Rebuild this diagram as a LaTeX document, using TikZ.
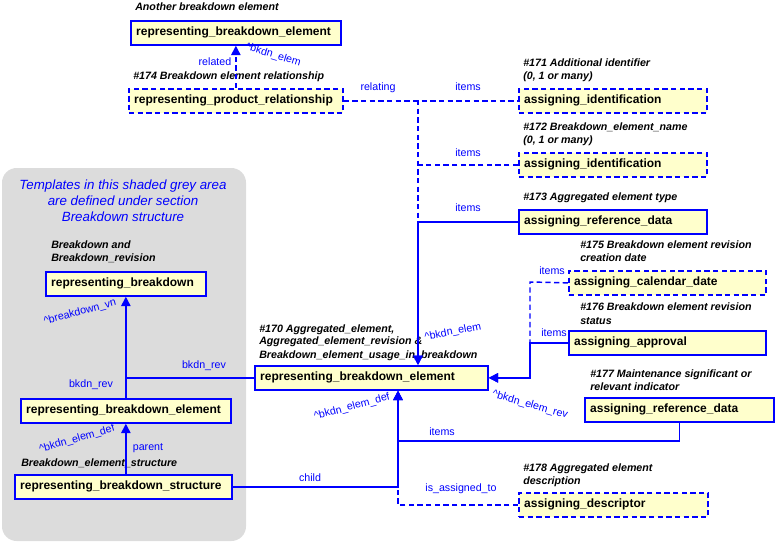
\documentclass[tikz,border=0pt]{standalone}
\usepackage{fontspec}
\setmainfont{Liberation Sans}
\usetikzlibrary{arrows.meta}
\definecolor{boxfill}{HTML}{FFFFCC}
\definecolor{greyarea}{HTML}{DCDCDC}

\begin{document}
\begin{tikzpicture}[x=0.75pt,y=-0.75pt,
  tmpl/.style={draw=blue,fill=boxfill,line width=1.3pt,anchor=north west,minimum height=18pt,inner xsep=4pt,inner ysep=0pt,align=left,font=\fontsize{9}{11}\selectfont\bfseries},
  opt/.style={tmpl,dash pattern=on 4pt off 2.5pt},
  note/.style={anchor=north west,inner sep=0pt,align=left,font=\fontsize{8}{9.75}\selectfont\bfseries\itshape},
  role/.style={text=blue,inner sep=0pt,font=\fontsize{8}{9.6}\selectfont},
  link/.style={draw=blue,line width=1.1pt},
  optlink/.style={link,dash pattern=on 4pt off 2.5pt},
  tip/.style={-{Triangle[width=7pt,length=7pt]}}]

\useasboundingbox (0,0) rectangle (775,543);

%grey area
\fill[greyarea,rounded corners=11pt] (2,168) rectangle (246,541);
\node[text=blue,align=center,font=\fontsize{10}{12}\selectfont\itshape,anchor=north,inner sep=0pt] (area) at (123,180) {Templates in this shaded grey area\\are defined under section\\Breakdown structure};

%templates
\node[tmpl,text width=149.5pt] (other) at (130,20) {representing\_breakdown\_element};
\node[opt,text width=152.5pt] (rel) at (128,88) {representing\_product\_relationship};
\node[opt,text width=133pt] (ident1) at (518,88) {assigning\_identification};
\node[opt,text width=133pt] (ident2) at (518,152) {assigning\_identification};
\node[tmpl,text width=133pt] (type) at (518,209) {assigning\_reference\_data};
\node[opt,text width=139.75pt] (date) at (568,270) {assigning\_calendar\_date};
\node[tmpl,text width=139.75pt] (appr) at (568,330) {assigning\_approval};
\node[tmpl,text width=133.75pt] (msi) at (584,397) {assigning\_reference\_data};
\node[opt,text width=133.75pt] (descr) at (518,492) {assigning\_descriptor};
\node[tmpl,text width=166.75pt] (elem) at (254,365) {representing\_breakdown\_element};
\node[tmpl,text width=112pt] (bkdn) at (45,271) {representing\_breakdown};
\node[tmpl,text width=149.5pt] (lelem) at (20,398) {representing\_breakdown\_element};
\node[tmpl,text width=154.75pt] (struct) at (14,474) {representing\_breakdown\_structure};

%notes
\node[note] (n0) at (135,3) {Another breakdown element};
\node[note] (n174) at (133,72) {\#174 Breakdown element relationship};
\node[note] (n171) at (523,59) {\#171 Additional identifier\\(0, 1 or many)};
\node[note] (n172) at (523,123) {\#172 Breakdown\_element\_name\\(0, 1 or many)};
\node[note] (n173) at (523,193) {\#173 Aggregated element type};
\node[note] (n175) at (580,241) {\#175 Breakdown element revision\\creation date};
\node[note] (n176) at (580,303) {\#176 Breakdown element revision\\status};
\node[note] (n177) at (590,369) {\#177 Maintenance significant or\\relevant indicator};
\node[note] (n178) at (523,463) {\#178 Aggregated element\\description};
\node[note] (n170) at (259,324) {\#170 Aggregated\_element,\\Aggregated\_element\_revision \&\\Breakdown\_element\_usage\_in\_breakdown};
\node[note] (nbk) at (51,241) {Breakdown and\\Breakdown\_revision};
\node[note] (nst) at (21,458) {Breakdown\_element\_structure};

%connectors
\coordinate (j1) at (418,100);
\coordinate (j2) at (530,282);
\coordinate (j3) at (398,441);

\draw[optlink,tip] (rel.north) -- (other.south);
\draw[optlink] (rel.east) -- (ident1.west);
\draw[optlink,tip] (j1) -- (j1 |- elem.north);
\draw[optlink] (ident2.west) -- (j1 |- ident2.west);
\draw[link,tip] (type.west) -- (j1 |- type.west) -- (j1 |- elem.north);

\draw[optlink,tip] (date.west) -- (j2) -- (j2 |- elem.east) -- (elem.east);
\draw[link,tip] (appr.west) -- (j2 |- appr.west) -- (j2 |- elem.east) -- (elem.east);

\draw[link,tip] (msi.south) |- (j3) -- (j3 |- elem.south);
\draw[link,tip] (struct.east) -| (j3 |- elem.south);
\draw[optlink,tip] (descr.west) -| (j3 |- elem.south);

\draw[link,tip] (elem.west) -| (bkdn.south);
\draw[link] (lelem.north) -- (lelem.north |- elem.west);
\draw[link,tip] (lelem.south |- struct.north) -- (lelem.south);

%roles
\node[role] (r1) at (215,62) {related};
\node[role,rotate=-17] (r2) at (273,55) {\textasciicircum bkdn\_elem};
\node[role] (r3) at (378,88) {relating};
\node[role] (r4) at (468,87) {items};
\node[role] (r5) at (468,153) {items};
\node[role] (r6) at (468,208) {items};
\node[role] (r7) at (552,271) {items};
\node[role] (r8) at (554,333) {items};
\node[role,rotate=11] (r9) at (453,332) {\textasciicircum bkdn\_elem};
\node[role,rotate=-16] (r10) at (530,405) {\textasciicircum bkdn\_elem\_rev};
\node[role,rotate=15] (r11) at (352,407) {\textasciicircum bkdn\_elem\_def};
\node[role] (r12) at (442,432) {items};
\node[role] (r13) at (461,489) {is\_assigned\_to};
\node[role] (r14) at (310,478) {child};
\node[role] (r15) at (204,366) {bkdn\_rev};
\node[role] (r16) at (91,385) {bkdn\_rev};
\node[role,rotate=15] (r17) at (80,312) {\textasciicircum breakdown\_vn};
\node[role,rotate=16] (r18) at (77,439) {\textasciicircum bkdn\_elem\_def};
\node[role] (r19) at (148,448) {parent};

\end{tikzpicture}
\end{document}
